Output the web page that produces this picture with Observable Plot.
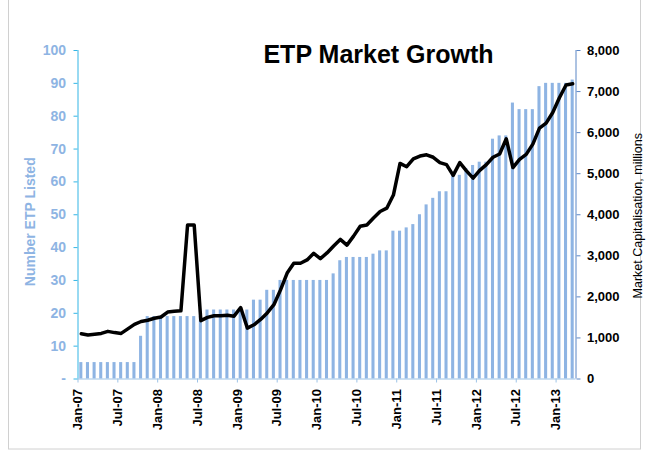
<!DOCTYPE html>
<html><head><meta charset="utf-8">
<script src="https://cdn.jsdelivr.net/npm/d3@7"></script>
<script src="https://cdn.jsdelivr.net/npm/@observablehq/plot@0.6"></script>
<style>body{margin:0;background:#fff;} #chart{width:649px;height:459px;}</style>
</head><body><div id="chart"></div>
<script>
const monthLabels = [
 "Jan-07","Feb-07","Mar-07","Apr-07","May-07","Jun-07","Jul-07","Aug-07","Sep-07","Oct-07","Nov-07","Dec-07",
 "Jan-08","Feb-08","Mar-08","Apr-08","May-08","Jun-08","Jul-08","Aug-08","Sep-08","Oct-08","Nov-08","Dec-08",
 "Jan-09","Feb-09","Mar-09","Apr-09","May-09","Jun-09","Jul-09","Aug-09","Sep-09","Oct-09","Nov-09","Dec-09",
 "Jan-10","Feb-10","Mar-10","Apr-10","May-10","Jun-10","Jul-10","Aug-10","Sep-10","Oct-10","Nov-10","Dec-10",
 "Jan-11","Feb-11","Mar-11","Apr-11","May-11","Jun-11","Jul-11","Aug-11","Sep-11","Oct-11","Nov-11","Dec-11",
 "Jan-12","Feb-12","Mar-12","Apr-12","May-12","Jun-12","Jul-12","Aug-12","Sep-12","Oct-12","Nov-12","Dec-12",
 "Jan-13","Feb-13","Mar-13"];
const xTickLabels = ["Jan-07","Jul-07","Jan-08","Jul-08","Jan-09","Jul-09","Jan-10","Jul-10","Jan-11","Jul-11","Jan-12","Jul-12","Jan-13"];
const etpListed = [
 5,5,5,5,5,5,5,5,5,13,19,19,
 19,19,19,19,19,19,19,21,21,21,21,21,
 21,21,24,24,27,27,30,30,30,30,30,30,
 30,30,32,36,37,37,37,37,38,39,39,45,
 45,46,47,50,53,55,57,57,62,62,64,65,
 66,66,73,74,74,84,82,82,82,89,90,90,
 90,90,91];
const marketCap = [
 1100,1070,1090,1110,1160,1130,1110,1220,1330,1400,1430,1480,
 1510,1630,1650,1660,3750,3750,1420,1500,1540,1540,1550,1530,
 1740,1240,1320,1450,1610,1810,2170,2580,2820,2820,2900,3060,
 2930,3070,3240,3400,3260,3480,3720,3750,3920,4080,4160,4480,
 5250,5170,5360,5430,5460,5400,5270,5220,4960,5270,5070,4890,
 5080,5220,5400,5480,5850,5150,5350,5470,5720,6110,6230,6490,
 6850,7160,7190];
const leftTicks = [0,10,20,30,40,50,60,70,80,90,100];
const rightTicks = [0,1000,2000,3000,4000,5000,6000,7000,8000];

const capScale = 100 / 8000;
const data = etpListed.map((v, i) => ({i, month: monthLabels[i], count: v, cap: marketCap[i]}));
const font = "'Liberation Sans', Arial, sans-serif";

const chart = Plot.plot({
  width: 649, height: 459,
  marginLeft: 77.5, marginRight: 73.5, marginTop: 50, marginBottom: 80.5,
  style: {fontFamily: font, background: "transparent", overflow: "visible"},
  x: {type: "linear", domain: [0, monthLabels.length], axis: null},
  y: {domain: [0, 100], axis: null},
  marks: [
    Plot.rectY(data, {x1: d => d.i + 0.27, x2: d => d.i + 0.73, y1: 0, y2: "count", fill: "#8eb4e3"}),
    Plot.ruleY([0], {stroke: "#9dc3e6", strokeWidth: 1}),
    Plot.ruleX([0], {stroke: "#33b5e5", strokeWidth: 1}),
    Plot.ruleX([monthLabels.length], {stroke: "#5b86c5", strokeWidth: 1}),
    Plot.axisX({ticks: xTickLabels.map((_, k) => k * 6), tickFormat: v => xTickLabels[Math.round(v / 6)],
      tickRotate: -90, tickSize: 4, tickPadding: 6, stroke: "#9dc3e6", fill: "#000",
      fontSize: 13, fontWeight: "bold", label: null}),
    Plot.axisY({anchor: "left", ticks: leftTicks, tickFormat: v => v === 0 ? "-" : String(v),
      tickSize: 4, tickPadding: 8, stroke: "#33b5e5", fill: "#8eb4e3",
      fontSize: 14, fontWeight: "bold", label: null}),
    Plot.axisY({anchor: "right", ticks: rightTicks.map(v => v * capScale),
      tickFormat: v => d3.format(",")(Math.round(v / capScale)),
      tickSize: 4, tickPadding: 7, stroke: "#5b86c5", fill: "#000",
      fontSize: 13, fontWeight: "bold", label: null}),
    Plot.lineY(data, {x: d => d.i + 0.5, y: d => d.cap * capScale, stroke: "#000", strokeWidth: 3.5, strokeLinejoin: "round"}),
    Plot.text(["ETP Market Growth"], {frameAnchor: "top", dx: 51.5, dy: -5, fontSize: 25, fontWeight: "bold", fill: "#000"}),
    Plot.text(["Number ETP Listed"], {frameAnchor: "left", textAnchor: "middle", dx: -47.5, dy: 7, rotate: -90, fontSize: 14, fontWeight: "bold", fill: "#8eb4e3"}),
    Plot.text(["Market Capitalisation, millions"], {frameAnchor: "right", textAnchor: "middle", dx: 61.5, dy: 1, rotate: -90, fontSize: 12.5, fill: "#000"})
  ]
});

d3.select(chart).insert("rect", ":first-child")
  .attr("x", 8.5).attr("y", -2).attr("width", 632).attr("height", 451)
  .attr("fill", "none").attr("stroke", "#d0d0d0");

document.getElementById("chart").append(chart);
</script>
</body></html>
